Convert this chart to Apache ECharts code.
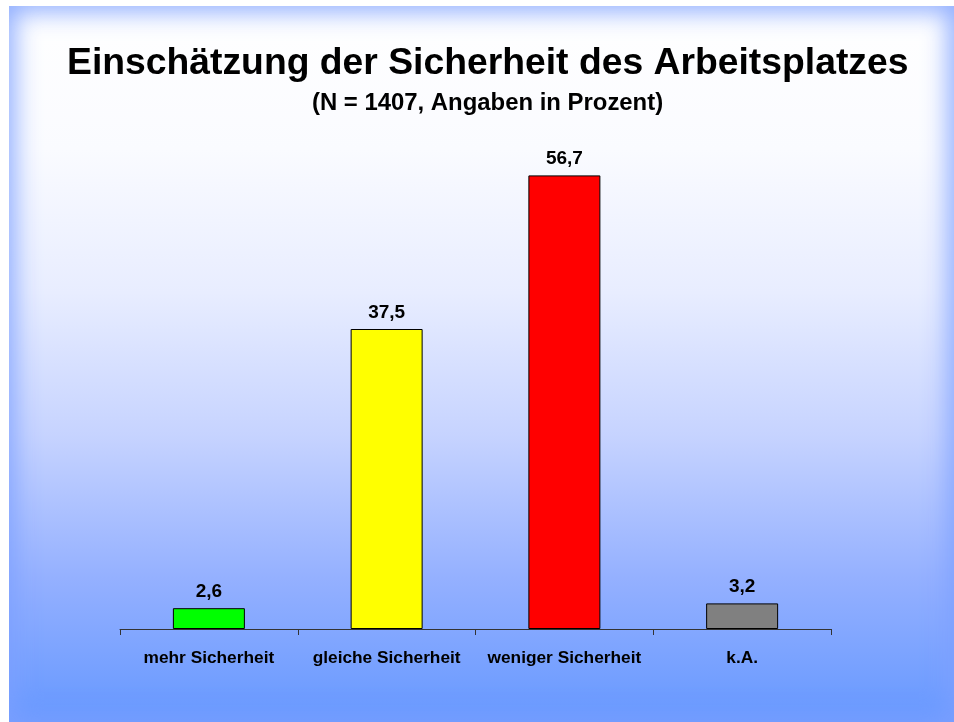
<!DOCTYPE html>
<html>
<head>
<meta charset="utf-8">
<script src="https://cdn.jsdelivr.net/npm/echarts@6/dist/echarts.min.js"></script>
<style>
    html, body { margin: 0; padding: 0; background: #ffffff; }
    .slide {
        position: absolute; left: 9px; top: 6px; width: 945px; height: 716px;
        background: linear-gradient(to bottom, #ffffff 0%, #fafbff 20%, #e8edff 40%, #c6d3ff 60%, #94b0ff 80%, #6698ff 100%);
        box-shadow: inset 0 0 24px 6px rgba(125, 160, 255, 0.85);
    }
    #chart { position: absolute; left: 0; top: 0; width: 954px; height: 722px; }
</style>
</head>
<body>
<div class="slide"></div>
<div id="chart"></div>
<script>
const categories = ['mehr Sicherheit', 'gleiche Sicherheit', 'weniger Sicherheit', 'k.A.'];
const values = [2.6, 37.5, 56.7, 3.2];
const barColors = ['#00ff00', '#ffff00', '#ff0000', '#808080'];

const fontFamily = 'Liberation Sans, Arial, sans-serif';

const chart = echarts.init(document.getElementById('chart'));
chart.setOption({
    title: [
        {
            text: 'Einschätzung der Sicherheit des Arbeitsplatzes',
            left: 67,
            top: 45,
            padding: 0,
            textStyle: { fontFamily, fontSize: 37.3, fontWeight: 'bold', color: '#000' }
        },
        {
            text: '(N = 1407, Angaben in Prozent)',
            left: 312,
            top: 91,
            padding: 0,
            textStyle: { fontFamily, fontSize: 23.9, fontWeight: 'bold', color: '#000' }
        }
    ],
    grid: { left: 120, right: 123, top: 149, bottom: 93 },
    xAxis: {
        type: 'category',
        data: categories,
        axisLine: { lineStyle: { color: '#333', width: 1 } },
        axisTick: { show: true, interval: 0, length: 6, lineStyle: { color: '#333' } },
        axisLabel: {
            interval: 0,
            margin: 21,
            fontFamily, fontSize: 17.3, fontWeight: 'bold', color: '#000'
        }
    },
    yAxis: { type: 'value', min: 0, max: 60, show: false },
    series: [{
        type: 'bar',
        barWidth: 72,
        data: values.map((v, i) => ({
            value: v,
            itemStyle: { color: barColors[i], borderColor: '#000', borderWidth: 1 }
        })),
        label: {
            show: true,
            position: 'top',
            distance: 7,
            fontFamily, fontSize: 19, fontWeight: 'bold', color: '#000',
            formatter: p => String(p.value).replace('.', ',')
        }
    }]
});
</script>
</body>
</html>
